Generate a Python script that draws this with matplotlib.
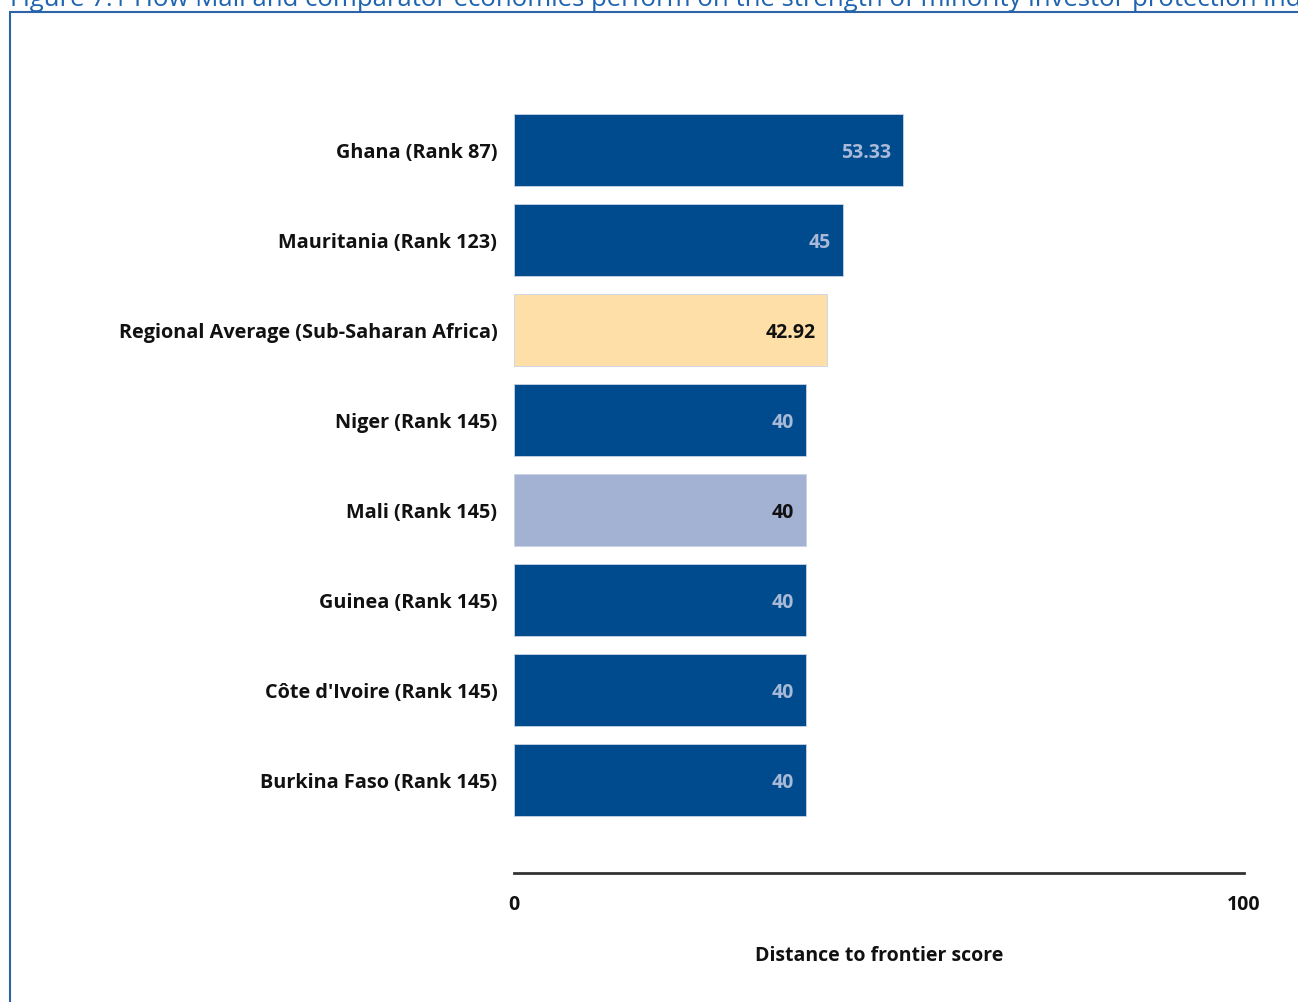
import matplotlib.pyplot as plt
from matplotlib.patches import Rectangle

plt.rcParams['font.family'] = ['Open Sans', 'DejaVu Sans']

# data, top to bottom
labels = ['Ghana (Rank 87)', 'Mauritania (Rank 123)', 'Regional Average (Sub-Saharan Africa)',
          'Niger (Rank 145)', 'Mali (Rank 145)', 'Guinea (Rank 145)',
          "Côte d'Ivoire (Rank 145)", 'Burkina Faso (Rank 145)']
values = [53.33, 45, 42.92, 40, 40, 40, 40, 40]
value_text = ['53.33', '45', '42.92', '40', '40', '40', '40', '40']
kinds = ['c', 'c', 'avg', 'c', 'mali', 'c', 'c', 'c']

bar_col = {'c': '#004B8D', 'avg': '#FFDFA8', 'mali': '#A3B1D3'}
txt_col = {'c': '#A9B9D8', 'avg': '#111111', 'mali': '#111111'}

W, H = 1298, 1002
fig = plt.figure(figsize=(W / 100, H / 100), dpi=100)

# title, cut off by the top edge like the source
fig.text(10 / W, 1.0, 'Figure 7.1 How Mali and comparator economies perform on the strength of minority investor protection index',
         color='#1F64B0', fontsize=18.5, va='center', ha='left')
# frame around the chart
fig.patches.append(Rectangle((10 / W, -0.05), 1.2, 1 - 12 / H + 0.05, transform=fig.transFigure,
                             fill=False, edgecolor='#2E63A8', lw=1.5))

ax = fig.add_axes([514 / W, 1 - 873 / H, 730 / W, (873 - 100) / H])
y = list(range(len(values)))
ax.barh(y, values, height=0.8, color=[bar_col[k] for k in kinds],
        edgecolor='#C9D3E6', linewidth=0.6)
for i, (v, t, k) in enumerate(zip(values, value_text, kinds)):
    ax.text(v - 1.6, i, t, ha='right', va='center_baseline', fontsize=14,
            fontweight='bold', color=txt_col[k])

ax.set_xlim(0, 100)
ax.set_ylim(len(values) - 1 + 93 / 90, -50 / 90)
ax.set_yticks(y)
ax.set_yticklabels(labels, fontsize=14.3, fontweight='bold', color='#111111')
ax.set_xticks([0, 100])
ax.set_xticklabels(['0', '100'], fontsize=14, fontweight='bold', color='#111111')
ax.tick_params(axis='both', length=0)
ax.tick_params(axis='y', pad=12)
ax.tick_params(axis='x', pad=16)
for s in ['top', 'right', 'left']:
    ax.spines[s].set_visible(False)
ax.spines['bottom'].set_linewidth(2)
ax.spines['bottom'].set_color('#333333')
ax.set_xlabel('Distance to frontier score', fontsize=14, fontweight='bold',
              color='#111111', labelpad=22)

fig.savefig('out.png', dpi=100)
